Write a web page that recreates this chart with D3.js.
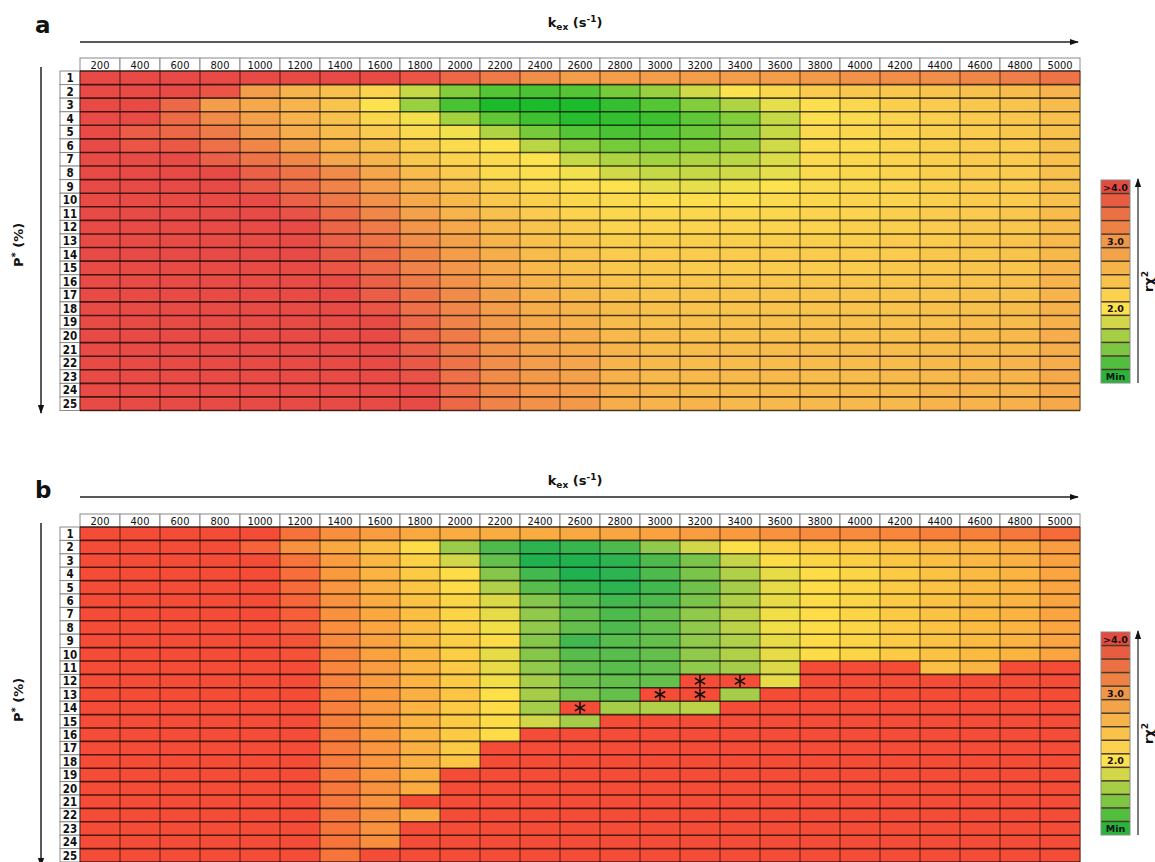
<!DOCTYPE html>
<html><head><meta charset="utf-8">
<script src="https://cdn.jsdelivr.net/npm/d3@7"></script>
<style>body{margin:0;background:#fff}svg{display:block}</style>
</head><body>
<svg id="chart" width="1155" height="862"></svg>
<script>
// ---------- data ----------
const kexValues = [200,400,600,800,1000,1200,1400,1600,1800,2000,2200,2400,2600,2800,3000,3200,3400,3600,3800,4000,4200,4400,4600,4800,5000];
const pStarValues = [1,2,3,4,5,6,7,8,9,10,11,12,13,14,15,16,17,18,19,20,21,22,23,24,25];
const legendValues = [4.0,3.75,3.5,3.25,3.0,2.8,2.6,2.4,2.2,2.0,1.8,1.6,1.4,1.2,1.0];
const legendLabels = [">4.0","","","","3.0","","","","","2.0","","","","","Min"];

// reduced chi-square, panel a (rows P* 1..25, columns kex 200..5000)
const chiA = [
[4,4,4,4,4,4,4,4,3.85,3.6,3.35,3.1,2.9,2.9,2.9,2.9,2.9,2.9,2.95,3.05,3.1,3.1,3.2,3.3,3.45],
[4,4,4,3.85,2.9,2.6,2.45,2.2,1.75,1.45,1.25,1.2,1.25,1.4,1.55,1.8,2.0,2.15,2.3,2.35,2.35,2.4,2.45,2.5,2.6],
[4,4,3.6,2.9,2.75,2.6,2.4,2.0,1.55,1.2,1.0,1.0,1.0,1.1,1.25,1.45,1.65,1.9,2.05,2.15,2.25,2.3,2.35,2.4,2.5],
[4,4,3.55,3.15,2.85,2.6,2.45,2.15,1.95,1.6,1.3,1.15,1.05,1.1,1.15,1.3,1.45,1.75,2.05,2.1,2.2,2.25,2.3,2.35,2.45],
[4,3.75,3.6,3.35,2.95,2.7,2.5,2.3,2.1,1.95,1.65,1.4,1.25,1.2,1.25,1.35,1.5,1.75,2.1,2.15,2.2,2.25,2.3,2.35,2.45],
[4,3.85,3.8,3.5,3.2,2.85,2.6,2.45,2.25,2.1,2.0,1.7,1.5,1.4,1.4,1.45,1.55,1.8,2.1,2.1,2.2,2.25,2.3,2.3,2.45],
[4,4,4,3.7,3.45,3.2,2.8,2.6,2.35,2.2,2.1,2.0,1.75,1.65,1.6,1.65,1.7,1.85,2.1,2.15,2.2,2.25,2.3,2.3,2.45],
[4,4,4,4,3.7,3.45,3.15,2.8,2.5,2.3,2.1,2.05,1.95,1.8,1.75,1.75,1.8,1.9,2.1,2.15,2.2,2.25,2.3,2.3,2.45],
[4,4,4,4,3.8,3.55,3.25,2.9,2.65,2.45,2.25,2.1,2.05,2.0,1.9,1.9,1.95,2.0,2.1,2.15,2.2,2.25,2.3,2.3,2.45],
[4,4,4,4,4,3.7,3.4,3.05,2.75,2.55,2.35,2.25,2.15,2.1,2.05,2.05,2.05,2.1,2.15,2.2,2.2,2.25,2.3,2.3,2.45],
[4,4,4,4,4,3.9,3.55,3.2,2.85,2.6,2.45,2.3,2.2,2.15,2.15,2.15,2.15,2.15,2.2,2.2,2.25,2.3,2.3,2.35,2.5],
[4,4,4,4,4,4,3.65,3.35,3.0,2.75,2.55,2.4,2.3,2.2,2.2,2.2,2.2,2.2,2.2,2.25,2.25,2.3,2.35,2.35,2.5],
[4,4,4,4,4,4,3.7,3.45,3.1,2.85,2.6,2.45,2.35,2.25,2.25,2.25,2.25,2.25,2.25,2.25,2.3,2.3,2.35,2.4,2.55],
[4,4,4,4,4,4,3.8,3.55,3.2,2.9,2.7,2.5,2.4,2.3,2.3,2.3,2.3,2.3,2.3,2.3,2.3,2.35,2.35,2.4,2.55],
[4,4,4,4,4,4,3.85,3.6,3.25,3.0,2.75,2.55,2.45,2.35,2.35,2.3,2.3,2.3,2.3,2.3,2.35,2.35,2.4,2.4,2.6],
[4,4,4,4,4,4,4,3.7,3.35,3.05,2.8,2.6,2.5,2.4,2.35,2.35,2.35,2.35,2.35,2.35,2.35,2.4,2.4,2.45,2.6],
[4,4,4,4,4,4,4,3.75,3.45,3.15,2.85,2.65,2.55,2.45,2.4,2.4,2.4,2.4,2.4,2.4,2.4,2.4,2.45,2.45,2.6],
[4,4,4,4,4,4,4,3.85,3.5,3.2,2.9,2.7,2.6,2.5,2.45,2.4,2.4,2.4,2.4,2.4,2.4,2.45,2.45,2.5,2.65],
[4,4,4,4,4,4,4,4,3.6,3.25,2.95,2.75,2.65,2.5,2.45,2.45,2.45,2.45,2.45,2.45,2.45,2.45,2.5,2.5,2.65],
[4,4,4,4,4,4,4,4,3.65,3.35,3.0,2.8,2.7,2.55,2.5,2.45,2.45,2.45,2.45,2.45,2.45,2.5,2.5,2.55,2.7],
[4,4,4,4,4,4,4,4,3.75,3.4,3.05,2.85,2.75,2.6,2.5,2.5,2.5,2.5,2.5,2.5,2.5,2.5,2.55,2.55,2.7],
[4,4,4,4,4,4,4,4,3.8,3.45,3.1,2.9,2.8,2.6,2.55,2.5,2.5,2.5,2.5,2.5,2.5,2.55,2.55,2.6,2.7],
[4,4,4,4,4,4,4,4,3.9,3.5,3.15,2.95,2.85,2.65,2.55,2.55,2.55,2.55,2.5,2.5,2.55,2.55,2.6,2.6,2.75],
[4,4,4,4,4,4,4,4,4,3.55,3.2,3.0,2.9,2.7,2.6,2.55,2.55,2.55,2.55,2.55,2.55,2.6,2.6,2.6,2.75],
[4,4,4,4,4,4,4,4,4,3.6,3.25,3.05,2.95,2.7,2.6,2.6,2.55,2.55,2.55,2.55,2.55,2.6,2.6,2.65,2.75]
];

// reduced chi-square, panel b
const chiB = [
[4,4,4,4,4,3.5,3.1,2.9,2.75,2.7,2.7,2.7,2.75,2.8,2.85,2.9,2.95,3.05,3.15,3.15,3.2,3.3,3.3,3.4,3.6],
[4,4,4,4,3.7,3.05,2.75,2.45,2.05,1.55,1.2,1.05,1.1,1.2,1.5,1.8,2.0,2.2,2.3,2.35,2.45,2.55,2.6,2.7,2.9],
[4,4,4,4,4,3.45,2.9,2.55,2.2,1.8,1.3,1.0,1.0,1.05,1.2,1.4,1.75,2.05,2.15,2.25,2.35,2.45,2.55,2.65,2.85],
[4,4,4,4,4,3.55,2.95,2.6,2.3,2.05,1.45,1.15,1.0,1.05,1.2,1.4,1.65,1.9,2.05,2.15,2.3,2.4,2.5,2.6,2.8],
[4,4,4,4,4,3.6,3.0,2.65,2.35,2.05,1.65,1.25,1.1,1.05,1.15,1.35,1.6,1.9,2.05,2.15,2.3,2.4,2.5,2.6,2.8],
[4,4,4,4,4,3.65,3.05,2.7,2.4,2.15,1.85,1.45,1.25,1.15,1.2,1.4,1.65,1.9,2.05,2.15,2.3,2.4,2.5,2.6,2.8],
[4,4,4,4,4,3.75,3.05,2.75,2.45,2.15,1.9,1.5,1.3,1.2,1.3,1.5,1.7,1.95,2.05,2.15,2.3,2.4,2.5,2.6,2.8],
[4,4,4,4,4,3.8,3.1,2.8,2.5,2.2,1.95,1.5,1.3,1.2,1.3,1.5,1.7,1.95,2.05,2.15,2.3,2.4,2.5,2.6,2.8],
[4,4,4,4,4,3.9,3.15,2.85,2.5,2.25,2.05,1.45,1.15,1.25,1.3,1.5,1.65,1.9,2.05,2.15,2.3,2.4,2.5,2.6,2.8],
[4,4,4,4,4,3.9,3.2,2.85,2.55,2.25,1.9,1.45,1.25,1.25,1.3,1.5,1.65,1.9,2.05,2.15,2.3,2.4,2.5,2.6,2.8],
[4,4,4,4,4,4,3.2,2.9,2.6,2.3,1.9,1.5,1.3,1.25,1.3,1.5,1.6,1.85,4,4,4,2.45,2.6,4,4],
[4,4,4,4,4,4,3.25,2.9,2.6,2.3,1.95,1.6,1.35,1.3,1.3,4,4,1.9,4,4,4,4,4,4,4],
[4,4,4,4,4,4,3.25,2.95,2.65,2.35,2.0,1.6,1.4,1.3,4,4,1.6,4,4,4,4,4,4,4,4],
[4,4,4,4,4,4,3.3,2.95,2.6,2.3,2.05,1.6,4,1.6,1.65,1.7,4,4,4,4,4,4,4,4,4],
[4,4,4,4,4,4,3.3,2.95,2.6,2.3,2.05,1.8,1.6,4,4,4,4,4,4,4,4,4,4,4,4],
[4,4,4,4,4,4,3.3,2.95,2.6,2.3,2.05,4,4,4,4,4,4,4,4,4,4,4,4,4,4],
[4,4,4,4,4,4,3.35,3.0,2.65,2.3,4,4,4,4,4,4,4,4,4,4,4,4,4,4,4],
[4,4,4,4,4,4,3.35,3.0,2.65,2.35,4,4,4,4,4,4,4,4,4,4,4,4,4,4,4],
[4,4,4,4,4,4,3.35,3.0,2.7,4,4,4,4,4,4,4,4,4,4,4,4,4,4,4,4],
[4,4,4,4,4,4,3.4,3.05,2.7,4,4,4,4,4,4,4,4,4,4,4,4,4,4,4,4],
[4,4,4,4,4,4,3.4,3.05,4,4,4,4,4,4,4,4,4,4,4,4,4,4,4,4,4],
[4,4,4,4,4,4,3.4,3.05,2.75,4,4,4,4,4,4,4,4,4,4,4,4,4,4,4,4],
[4,4,4,4,4,4,3.45,3.05,4,4,4,4,4,4,4,4,4,4,4,4,4,4,4,4,4],
[4,4,4,4,4,4,3.45,3.1,4,4,4,4,4,4,4,4,4,4,4,4,4,4,4,4,4],
[4,4,4,4,4,4,3.45,4,4,4,4,4,4,4,4,4,4,4,4,4,4,4,4,4,4]
];

// cells marked with an asterisk in panel b
const starP = [12,12,13,13,14];
const starKex = [3200,3400,3000,3200,2600];

// ---------- drawing ----------
const svg = d3.select("#chart");
const narrow = '"Liberation Sans Narrow","DejaVu Sans Condensed","Roboto Condensed",sans-serif';
const boldFont = '"DejaVu Sans",Verdana,sans-serif';

const legendColor = d3.scaleLinear().domain([1,2,4]).range(["#27b53a","#fde04e","#e54a3f"]).clamp(true);

function drawPanel(cfg){
  const g = svg.append("g");
  const x = d3.scaleBand().domain(kexValues).range([cfg.x0, cfg.x1]);
  const y = d3.scaleBand().domain(pStarValues).range([cfg.y0, cfg.y1]);
  const color = d3.scaleLinear().domain([1,2,4]).range(cfg.colors).clamp(true);
  const cells = [];
  cfg.data.forEach((row,i)=>row.forEach((v,j)=>cells.push({p:pStarValues[i],k:kexValues[j],v})));

  // panel letter
  g.append("text").attr("x",35).attr("y",cfg.letterY).text(cfg.letter)
   .attr("font-family",boldFont).attr("font-weight","bold").attr("font-size",23).attr("fill","#111");

  // kex title
  const t = g.append("text").attr("x",575).attr("y",cfg.titleY).attr("text-anchor","middle")
    .attr("font-family",boldFont).attr("font-weight","bold").attr("font-size",13).attr("fill","#111");
  t.append("tspan").text("k");
  t.append("tspan").text("ex").attr("font-size",9).attr("dy",3);
  t.append("tspan").text(" (s").attr("dy",-3);
  t.append("tspan").text("-1").attr("font-size",9).attr("dy",-5);
  t.append("tspan").text(")").attr("dy",5);

  // arrows
  const defsId = "arr"+cfg.letter;
  svg.append("defs").append("marker").attr("id",defsId).attr("viewBox","0 0 10 10")
    .attr("refX",9).attr("refY",5).attr("markerWidth",9).attr("markerHeight",9)
    .attr("markerUnits","userSpaceOnUse").attr("orient","auto")
    .append("path").attr("d","M0,1.5L10,5L0,8.5Z").attr("fill","#111");
  g.append("line").attr("x1",cfg.x0).attr("x2",cfg.x1-2).attr("y1",cfg.arrowY).attr("y2",cfg.arrowY)
    .attr("stroke","#222").attr("stroke-width",1.5).attr("marker-end",`url(#${defsId})`);
  g.append("line").attr("x1",41).attr("x2",41).attr("y1",cfg.y0-4).attr("y2",cfg.vArrowEnd)
    .attr("stroke","#222").attr("stroke-width",1.5).attr("marker-end",`url(#${defsId})`);

  // P* label
  const pl = g.append("text").attr("transform",`translate(23,${cfg.pLabelY}) rotate(-90)`)
    .attr("text-anchor","middle").attr("font-family",boldFont).attr("font-weight","bold")
    .attr("font-size",13).attr("fill","#111");
  pl.append("tspan").text("P");
  pl.append("tspan").text("*").attr("font-size",10).attr("dy",-4);
  pl.append("tspan").text(" (%)").attr("dy",4);

  // header cells
  const hy0 = cfg.y0 - 13;
  g.selectAll(".hc").data(kexValues).join("rect")
    .attr("x",d=>x(d)).attr("y",hy0).attr("width",x.bandwidth()).attr("height",13)
    .attr("fill","#fff").attr("stroke","#8a8a8a").attr("stroke-width",1);
  g.selectAll(".ht").data(kexValues).join("text")
    .attr("x",d=>x(d)+x.bandwidth()/2).attr("y",hy0+10.5).attr("text-anchor","middle")
    .attr("font-family",narrow).attr("font-size",11).attr("fill","#111").text(d=>d);

  // row label cells
  g.selectAll(".rc").data(pStarValues).join("rect")
    .attr("x",cfg.x0-20).attr("y",d=>y(d)).attr("width",20).attr("height",y.bandwidth())
    .attr("fill","#fff").attr("stroke","#8a8a8a").attr("stroke-width",1);
  g.selectAll(".rt").data(pStarValues).join("text")
    .attr("x",cfg.x0-10).attr("y",d=>y(d)+y.bandwidth()/2+4.2).attr("text-anchor","middle")
    .attr("font-family",narrow).attr("font-weight","bold").attr("font-size",11.5).attr("fill","#111").text(d=>d);

  // heat cells
  g.selectAll(".cell").data(cells).join("rect")
    .attr("x",d=>x(d.k)).attr("y",d=>y(d.p)).attr("width",x.bandwidth()+0.5).attr("height",y.bandwidth()+0.5)
    .attr("fill",d=>color(d.v));

  // grid lines
  const hLines = pStarValues.map(p=>y(p)).concat([cfg.y1]);
  g.selectAll(".hl").data(hLines).join("line")
    .attr("x1",cfg.x0).attr("x2",cfg.x1).attr("y1",d=>d).attr("y2",d=>d)
    .attr("stroke","#000").attr("stroke-opacity",0.7).attr("stroke-width",1.6);
  const vLines = kexValues.map(k=>x(k)).concat([cfg.x1]);
  g.selectAll(".vl").data(vLines).join("line")
    .attr("x1",d=>d).attr("x2",d=>d).attr("y1",cfg.y0).attr("y2",cfg.y1)
    .attr("stroke","#000").attr("stroke-opacity",0.6).attr("stroke-width",1.1);

  // asterisks
  if (cfg.stars){
    const pts = cfg.stars.p.map((p,i)=>({p,k:cfg.stars.k[i]}));
    const r = 6;
    const ang = [90,30,150].map(a=>a*Math.PI/180);
    pts.forEach(pt=>{
      const cx = x(pt.k)+x.bandwidth()/2, cy = y(pt.p)+y.bandwidth()/2;
      ang.forEach(a=>{
        g.append("line").attr("x1",cx-r*Math.cos(a)).attr("y1",cy-r*Math.sin(a))
          .attr("x2",cx+r*Math.cos(a)).attr("y2",cy+r*Math.sin(a))
          .attr("stroke","#111").attr("stroke-width",1.5);
      });
    });
  }

  // legend
  const ly = d3.scaleBand().domain(d3.range(legendValues.length)).range([cfg.legY0, cfg.legY1]);
  const lx0 = 1101, lw = 29;
  g.selectAll(".lg").data(legendValues).join("rect")
    .attr("x",lx0).attr("y",(d,i)=>ly(i)).attr("width",lw).attr("height",ly.bandwidth())
    .attr("fill",d=>legendColor(d));
  g.selectAll(".lgl").data(d3.range(1,legendValues.length)).join("line")
    .attr("x1",lx0).attr("x2",lx0+lw).attr("y1",i=>ly(i)).attr("y2",i=>ly(i))
    .attr("stroke","#4a3a2a").attr("stroke-width",1.5);
  g.append("rect").attr("x",lx0).attr("y",cfg.legY0).attr("width",lw).attr("height",cfg.legY1-cfg.legY0)
    .attr("fill","none").attr("stroke","#888").attr("stroke-width",1);
  g.selectAll(".lgt").data(legendLabels).join("text")
    .attr("x",lx0+lw/2).attr("y",(d,i)=>ly(i)+ly.bandwidth()/2+3.8).attr("text-anchor","middle")
    .attr("font-family",boldFont).attr("font-weight","bold").attr("font-size",9.5).attr("fill","#111")
    .text(d=>d);
  g.append("line").attr("x1",1138).attr("x2",1138).attr("y1",cfg.legY1).attr("y2",cfg.legY0-1)
    .attr("stroke","#222").attr("stroke-width",1.2).attr("marker-end",`url(#${defsId})`);
  const rl = g.append("text").attr("transform",`translate(1153,${(cfg.legY0+cfg.legY1)/2}) rotate(-90)`)
    .attr("text-anchor","middle").attr("font-family",boldFont).attr("font-weight","bold")
    .attr("font-size",13).attr("fill","#111");
  rl.append("tspan").text("rχ");
  rl.append("tspan").text("2").attr("font-size",9).attr("dy",-5);
}

drawPanel({letter:"a", data:chiA, x0:80, x1:1080, y0:71, y1:410.5, letterY:33, titleY:27, arrowY:42,
  vArrowEnd:413, pLabelY:245, legY0:180, legY1:383,
  colors:["#1cbb2c","#fde24f","#e84a45"]});
drawPanel({letter:"b", data:chiB, x0:80, x1:1080, y0:527, y1:862, letterY:498, titleY:485, arrowY:497,
  vArrowEnd:866, pLabelY:700, legY0:632, legY1:835,
  colors:["#22b14f","#fde047","#f54c37"], stars:{p:starP,k:starKex}});
</script>
</body></html>
